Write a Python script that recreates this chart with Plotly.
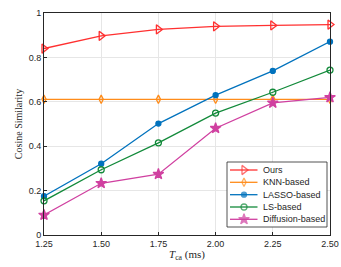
import plotly.graph_objects as go

x_vals = [1.25, 1.50, 1.75, 2.00, 2.25, 2.50]
x_ticklabels = ["1.25", "1.50", "1.75", "2.00", "2.25", "2.50"]
ours = [0.840, 0.897, 0.926, 0.940, 0.944, 0.948]
knn = [0.611, 0.611, 0.611, 0.611, 0.611, 0.611]
lasso = [0.175, 0.321, 0.502, 0.630, 0.739, 0.871]
ls = [0.154, 0.294, 0.415, 0.549, 0.643, 0.743]
diffusion = [0.090, 0.233, 0.274, 0.481, 0.595, 0.620]
y_ticks = [0, 0.2, 0.4, 0.6, 0.8, 1]
y_ticklabels = ["0", "0.2", "0.4", "0.6", "0.8", "1"]
series_names = ["Ours", "KNN-based", "LASSO-based", "LS-based", "Diffusion-based"]

W, H = 341, 267
ML, MR, MT, MB = 44, 11, 13, 32
PW, PH = W - ML - MR, H - MT - MB

styles = [
    ("#FF3030", "triangle-right-open", 8),
    ("#FF8C1A", "diamond-tall-open", 6),
    ("#0072BD", "circle", 5),
    ("#128A3A", "circle-open", 6),
    ("#D040A0", "star", 8),
]
all_series = [ours, knn, lasso, ls, diffusion]

def px_to_fx(px):
    return (px - ML) / PW

def py_to_fy(py):
    return (MT + PH - py) / PH

fig = go.Figure()
for name, vals, (color, sym, size) in zip(series_names, all_series, styles):
    fig.add_trace(go.Scatter(
        x=x_vals, y=vals, name=name, mode="lines+markers",
        line=dict(color=color, width=1.3),
        marker=dict(symbol=sym, size=size, color=color,
                    line=dict(color=color, width=1.3)),
        cliponaxis=False, showlegend=False,
    ))

# custom compact legend (drawn on an overlay axis spanning the plot area in fractions)
bx0, bx1, by0, by1 = px_to_fx(227), px_to_fx(327), py_to_fy(227), py_to_fy(162)
fig.add_trace(go.Scatter(
    x=[bx0, bx1, bx1, bx0, bx0], y=[by0, by0, by1, by1, by0],
    mode="lines", fill="toself", fillcolor="white",
    line=dict(color="#262626", width=0.8),
    xaxis="x2", yaxis="y2", showlegend=False, hoverinfo="skip",
))
item_py = [170, 182.3, 194.7, 207, 219.3]
lx0, lxm, lx1, tx = px_to_fx(230), px_to_fx(244), px_to_fx(257.5), px_to_fx(261)
annotations = []
for name, (color, sym, size), py in zip(series_names, styles, item_py):
    fy = py_to_fy(py)
    fig.add_trace(go.Scatter(
        x=[lx0, lxm, lx1], y=[fy, fy, fy], mode="lines+markers",
        line=dict(color=color, width=1.3),
        marker=dict(symbol=sym, size=[0, size, 0], color=color,
                    line=dict(color=color, width=1.3)),
        xaxis="x2", yaxis="y2", showlegend=False, hoverinfo="skip",
        cliponaxis=False,
    ))
    annotations.append(dict(
        x=tx, y=fy, xref="paper", yref="paper", text=name, showarrow=False,
        xanchor="left", yanchor="middle",
        font=dict(size=9, family="Liberation Sans, Arial", color="#262626"),
    ))

fig.update_layout(
    width=W, height=H,
    margin=dict(l=ML, r=MR, t=MT, b=MB),
    paper_bgcolor="white", plot_bgcolor="white",
    font=dict(family="Liberation Sans, Arial", size=9, color="#262626"),
    showlegend=False,
    annotations=annotations,
    xaxis=dict(
        range=[1.25, 2.50], tickvals=x_vals, ticktext=x_ticklabels,
        automargin=False,
        showgrid=True, gridcolor="#E6E6E6", gridwidth=1,
        showline=True, linecolor="#262626", linewidth=1, mirror=True,
        ticks="inside", ticklen=3, tickcolor="#262626",
        tickfont=dict(size=9),
        zeroline=False,
        title=dict(text="<i>T</i><sub>ca</sub> (ms)",
                   font=dict(family="Liberation Serif, Times New Roman", size=11, color="#262626"),
                   standoff=2),
    ),
    yaxis=dict(
        range=[0, 1], tickvals=y_ticks, ticktext=y_ticklabels,
        automargin=False,
        showgrid=True, gridcolor="#E6E6E6", gridwidth=1,
        showline=True, linecolor="#262626", linewidth=1, mirror=True,
        ticks="inside", ticklen=3, tickcolor="#262626",
        tickfont=dict(size=9),
        zeroline=False,
        title=dict(text="Cosine Similarity",
                   font=dict(family="Liberation Serif, Times New Roman", size=10, color="#262626"),
                   standoff=4),
    ),
    xaxis2=dict(overlaying="x", range=[0, 1], visible=False, fixedrange=True),
    yaxis2=dict(overlaying="y", range=[0, 1], visible=False, fixedrange=True),
)

fig.write_html("out.html", config={"displayModeBar": False},
               post_script="document.body.style.margin='0';document.body.style.padding='0';")
